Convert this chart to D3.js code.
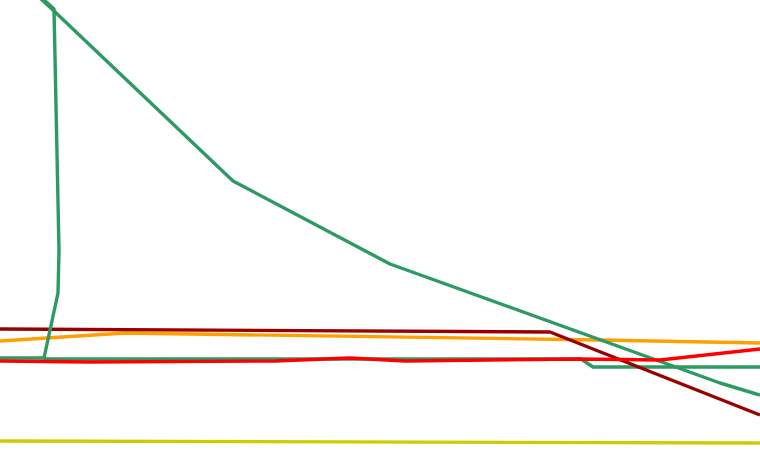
<!DOCTYPE html>
<html>
<head>
<meta charset="utf-8">
<script src="https://cdn.jsdelivr.net/npm/d3@7"></script>
<style>
  html, body { margin: 0; padding: 0; background: #ffffff; }
  svg { display: block; }
</style>
</head>
<body>
<svg id="chart" width="760" height="450"></svg>
<script>
// Series data (x in data units, y in data units)
const orangeX = [0, 6.25, 30, 38];
const orangeY = [22, 23.6, 22.2, 21.6];

const yellowX = [0, 38];
const yellowY = [2, 1.6];

const greenFlatX = [2.2, 29.05, 29.65, 38];
const greenFlatY = [18.4, 18.4, 16.8, 16.8];

const greenDiagX = [2, 2.7, 11.65, 19.5, 36, 38];
const greenDiagY = [90.6, 88, 54, 37.4, 13.6, 11.2];

const maroonX = [0, 27.5, 38];
const maroonY = [24.4, 23.8, 7.2];

const greenVertX = [2.1, 2.7, 2.95, 2.9, 2.2, 0];
const greenVertY = [90.6, 88.4, 40, 31.6, 18.6, 18.6];

const redX = [0, 4.5, 13.75, 17.5, 20.25, 29, 33, 38];
const redY = [18, 17.8, 18, 18.6, 18, 18.4, 18.2, 20.4];

const seriesList = [
  { xs: orangeX, ys: orangeY, color: "#ff9f00" },
  { xs: yellowX, ys: yellowY, color: "#cccc00" },
  { xs: greenFlatX, ys: greenFlatY, color: "#2e9a63" },
  { xs: greenDiagX, ys: greenDiagY, color: "#2e9a63" },
  { xs: maroonX, ys: maroonY, color: "#990000" },
  { xs: greenVertX, ys: greenVertY, color: "#2e9a63" },
  { xs: redX, ys: redY, color: "#ff0000" }
];

const W = 760, H = 450;
const x = d3.scaleLinear().domain([0, 38]).range([0, W]);
const y = d3.scaleLinear().domain([0, 90]).range([H + 1, 1]);

const svg = d3.select("#chart");
const line = d3.line().x(d => x(d[0])).y(d => y(d[1]));

svg.selectAll("path.series")
  .data(seriesList)
  .join("path")
  .attr("class", "series")
  .attr("fill", "none")
  .attr("stroke", d => d.color)
  .attr("stroke-width", 3.4)
  .attr("stroke-linejoin", "round")
  .attr("d", d => line(d.xs.map((v, i) => [v, d.ys[i]])));
</script>
</body>
</html>
